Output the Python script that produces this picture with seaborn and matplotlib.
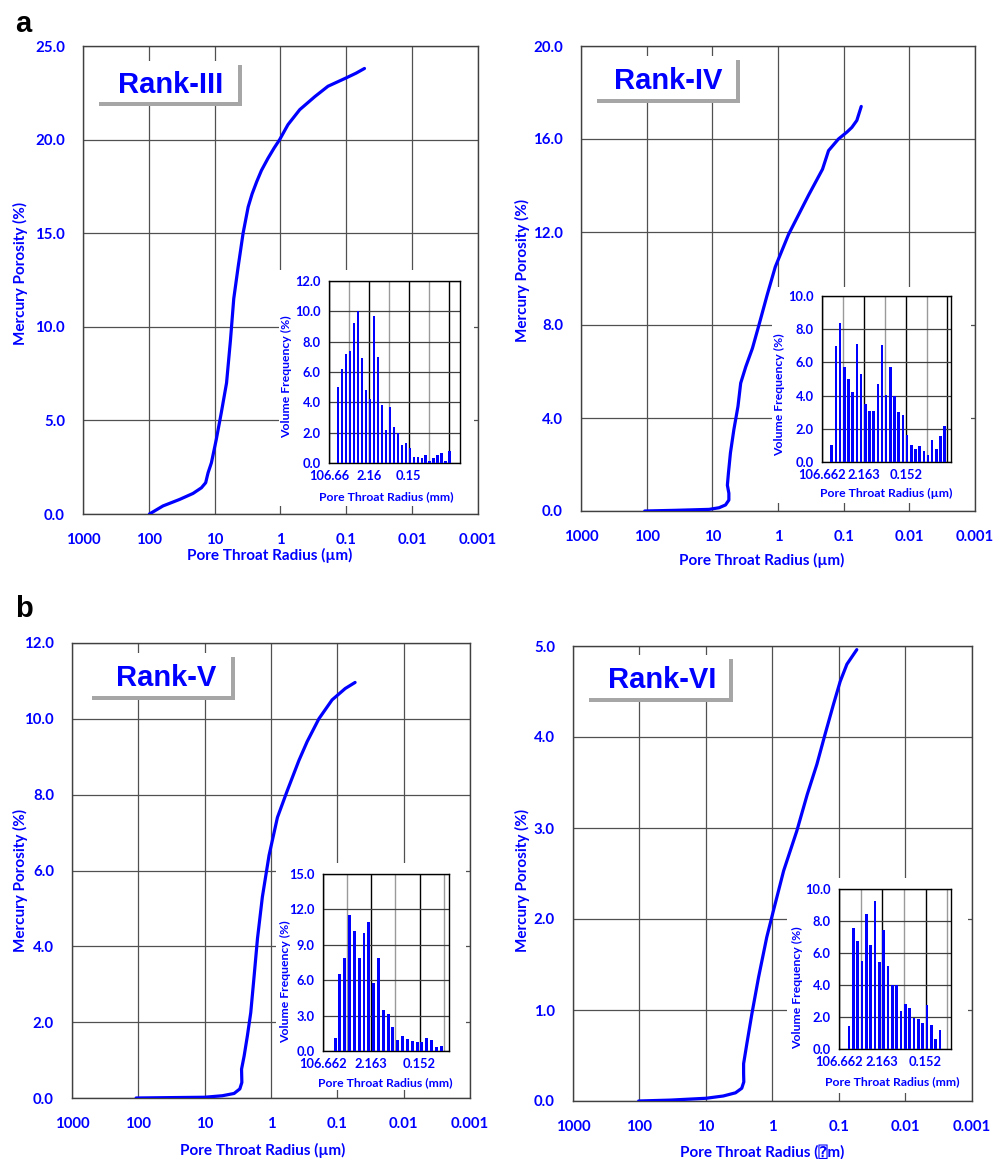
import numpy as np
import pandas as pd
import matplotlib
matplotlib.use("Agg")
import matplotlib.pyplot as plt
import seaborn as sns
from matplotlib.patches import Rectangle
from matplotlib.ticker import FixedLocator, NullFormatter, LogLocator, MultipleLocator, FormatStrFormatter, FixedFormatter

# ---------------- data ----------------
# Capillary curves: pore throat radius (um) vs cumulative mercury porosity (%)
rank3_radius = [98, 61, 34, 21.3, 15.9, 13.7, 12.6, 11.2, 9.44, 7.94, 6.6, 5.75, 5.13, 4.4, 3.7, 3.1,
                2.7, 2.3, 1.95, 1.55, 1.25, 1.03, 0.77, 0.51, 0.30, 0.19, 0.133, 0.10, 0.071, 0.053]
rank3_porosity = [0.0, 0.43, 0.78, 1.1, 1.4, 1.67, 2.2, 2.74, 3.99, 5.4, 7.0, 9.3, 11.5, 13.2, 15.0, 16.4,
                  17.1, 17.75, 18.35, 19.0, 19.55, 20.0, 20.8, 21.6, 22.3, 22.85, 23.1, 23.3, 23.55, 23.8]

rank4_radius = [107, 36, 11.2, 7.9, 6.3, 5.6, 5.6, 5.9, 5.7, 5.3, 4.7, 4.07, 3.7, 3.1, 2.45, 1.95, 1.46,
                1.1, 0.69, 0.34, 0.21, 0.17, 0.12, 0.089, 0.075, 0.063, 0.054]
rank4_porosity = [0.0, 0.03, 0.07, 0.14, 0.26, 0.47, 0.76, 1.11, 1.6, 2.5, 3.5, 4.5, 5.5, 6.2, 7.0, 8.0, 9.3,
                  10.5, 11.9, 13.6, 14.7, 15.5, 16.0, 16.3, 16.5, 16.8, 17.4]

rank5_radius = [108, 34, 10, 5.4, 3.6, 2.95, 2.75, 2.78, 2.54, 2.27, 2.02, 1.8, 1.6, 1.35, 1.07, 0.80,
                0.57, 0.38, 0.285, 0.19, 0.12, 0.076, 0.054]
rank5_porosity = [0.0, 0.01, 0.02, 0.06, 0.12, 0.24, 0.41, 0.76, 1.11, 1.64, 2.25, 3.2, 4.2, 5.3, 6.4, 7.4,
                  8.1, 8.9, 9.4, 10.0, 10.5, 10.8, 10.96]

rank6_radius = [103, 34, 10, 5.5, 3.6, 2.9, 2.7, 2.72, 2.72, 2.43, 2.04, 1.62, 1.22, 0.97, 0.68, 0.43,
                0.30, 0.215, 0.162, 0.121, 0.096, 0.076, 0.054]
rank6_porosity = [0.0, 0.01, 0.03, 0.055, 0.09, 0.14, 0.21, 0.30, 0.41, 0.63, 0.96, 1.36, 1.80, 2.09, 2.53,
                  2.97, 3.37, 3.70, 4.03, 4.36, 4.61, 4.80, 4.96]

# Pore-throat volume frequency histograms (%)
rank3_freq = [5.0, 6.2, 7.2, 7.4, 9.2, 10.0, 6.9, 4.8, 4.2, 9.7, 7.0, 3.8, 2.2, 3.7, 2.35, 2.0, 1.2, 1.35,
              1.0, 0.37, 0.4, 0.3, 0.55, 0.1, 0.3, 0.5, 0.65, 0.15, 0.8]
rank4_freq = [1.04, 7.0, 8.4, 5.7, 5.0, 4.2, 7.1, 5.3, 3.5, 3.05, 3.1, 4.7, 7.05, 4.05, 5.7, 4.0, 3.0, 2.85,
              1.63, 1.05, 0.8, 0.95, 0.66, 0.42, 1.35, 0.8, 1.58, 2.15]
rank5_freq = [1.08, 6.55, 7.9, 11.5, 10.2, 7.9, 10.0, 10.9, 5.75, 7.85, 3.5, 3.1, 2.0, 0.96, 1.27, 1.0, 0.85,
              0.74, 0.74, 1.1, 0.9, 0.35, 0.45]
rank6_freq = [1.41, 7.55, 6.78, 5.5, 8.46, 6.53, 9.27, 5.43, 7.42, 5.16, 4.01, 3.97, 2.35, 2.83, 2.58, 1.93,
              1.87, 1.6, 2.72, 1.48, 0.64, 1.2]

rank_titles = ["Rank-III", "Rank-IV", "Rank-V", "Rank-VI"]
main_xtick_labels = ["1000", "100", "10", "1", "0.1", "0.01", "0.001"]
main_xtick_values = [1000, 100, 10, 1, 0.1, 0.01, 0.001]
inset_xtick_labels3 = ["106.66", "2.16", "0.15"]
inset_xtick_labels = ["106.662", "2.163", "0.152"]
main_xlabels = ["Pore Throat Radius (\u00b5m)", "Pore Throat Radius (\u00b5m)",
                "Pore Throat Radius (\u00b5m)", "Pore Throat Radius (\u2370m)"]
inset_xlabels = ["Pore Throat Radius (mm)", "Pore Throat Radius (\u00b5m)",
                 "Pore Throat Radius (mm)", "Pore Throat Radius (mm)"]

# ---------------- style ----------------
sns.set_style("white")
plt.rcParams["font.family"] = ["Lato", "DejaVu Sans", "DejaVu Sans Mono"]
plt.rcParams["font.weight"] = "bold"
plt.rcParams["axes.labelweight"] = "bold"

BLUE = "#0000ff"
W, H = 1003, 1159
fig = plt.figure(figsize=(W / 100, H / 100), dpi=100)


def frect(l, t, r, b):
    return [l / W, 1 - b / H, (r - l) / W, (b - t) / H]


def fx(px):
    return px / W


def fy(py):
    return 1 - py / H


panels = [
    dict(rect=(83, 46, 478, 514), r=rank3_radius, p=rank3_porosity, ymax=25, ystep=5,
         box=(95, 61, 238, 102), txt=(118, 93), xl=(270, 555), yl=(20, 273),
         patch=(279, 270, 474, 506),
         inset=(329, 281, 460, 463), freq=rank3_freq, off=2.27, right=30.6, iy=12, istep=2,
         ixt=inset_xtick_labels3, ixl=(386, 497), iyl=(287, 377)),
    dict(rect=(581, 46, 975, 511), r=rank4_radius, p=rank4_porosity, ymax=20, ystep=4,
         box=(593, 56, 736, 99), txt=(614, 89), xl=(762, 560), yl=(522, 270),
         patch=(772, 287, 971, 503),
         inset=(822, 296, 951, 462), freq=rank4_freq, off=2.34, right=28.5, iy=10, istep=2,
         ixt=inset_xtick_labels, ixl=(886, 493), iyl=(780, 395)),
    dict(rect=(72, 643, 470, 1098), r=rank5_radius, p=rank5_porosity, ymax=12, ystep=2,
         box=(88, 653, 231, 696), txt=(116, 686), xl=(263, 1150), yl=(20, 880),
         patch=(276, 863, 466, 1090),
         inset=(323, 874, 449, 1051), freq=rank5_freq, off=2.49, right=23.6, iy=15, istep=3,
         ixt=inset_xtick_labels, ixl=(385, 1083), iyl=(286, 982)),
    dict(rect=(573, 646, 972, 1101), r=rank6_radius, p=rank6_porosity, ymax=5, ystep=1,
         box=(585, 655, 729, 698), txt=(608, 688), xl=(762, 1152), yl=(522, 880),
         patch=(787, 878, 968, 1093),
         inset=(839, 889, 951, 1049), freq=rank6_freq, off=2.32, right=23.55, iy=10, istep=2,
         ixt=inset_xtick_labels, ixl=(892, 1082), iyl=(798, 988)),
]

for i, P in enumerate(panels):
    ax = fig.add_axes(frect(*P["rect"]))
    ax.set_xscale("log")
    df = pd.DataFrame({"radius": P["r"], "porosity": P["p"]})
    sns.lineplot(data=df, x="radius", y="porosity", ax=ax, sort=False, estimator=None,
                 color=BLUE, lw=2.3, zorder=3)
    ax.set_xlim(1000, 0.001)
    ax.set_ylim(0, P["ymax"])
    ax.set_axisbelow(True)
    ax.set_facecolor("white")
    ax.xaxis.set_major_locator(FixedLocator(main_xtick_values))
    ax.xaxis.set_major_formatter(FixedFormatter(main_xtick_labels))
    ax.xaxis.set_minor_locator(LogLocator(base=10, subs=np.arange(2, 10), numticks=20))
    ax.xaxis.set_minor_formatter(NullFormatter())
    ax.yaxis.set_major_locator(MultipleLocator(P["ystep"]))
    ax.yaxis.set_minor_locator(MultipleLocator(P["ystep"] / 5))
    ax.yaxis.set_major_formatter(FormatStrFormatter("%.1f"))
    ax.grid(which="major", color="#505050", lw=0.9)
    ax.grid(which="minor", visible=False)
    ax.tick_params(which="major", direction="out", length=5, width=0.9, color="#404040",
                   labelsize=10.8, labelcolor=BLUE)
    ax.tick_params(axis="x", which="major", pad=9)
    ax.tick_params(axis="y", which="major", pad=8)
    ax.tick_params(which="minor", direction="in", length=4, width=0.8, color="#404040")
    ax.tick_params(top=False, right=False, which="both")
    for s in ax.spines.values():
        s.set_color("#404040")
        s.set_linewidth(1.0)
    ax.set_xlabel(main_xlabels[i], color=BLUE, fontsize=11, fontweight="bold")
    ax.set_ylabel("Mercury Porosity (%)", color=BLUE, fontsize=11, fontweight="bold")
    ax.xaxis.set_label_coords(fx(P["xl"][0]), fy(P["xl"][1]), transform=fig.transFigure)
    ax.xaxis.label.set_verticalalignment("center")
    ax.yaxis.set_label_coords(fx(P["yl"][0]), fy(P["yl"][1]), transform=fig.transFigure)
    ax.yaxis.label.set_verticalalignment("center")

    # white backing behind the inset
    pl, pt, pr, pb = P["patch"]
    ax.add_patch(Rectangle((fx(pl), fy(pb)), (pr - pl) / W, (pb - pt) / H,
                           transform=fig.transFigure, facecolor="white", edgecolor="none",
                           zorder=1.8, clip_on=False))

    # rank label box with drop shadow
    bl, bt, br, bb = P["box"]
    sh = 4
    fig.patches.append(Rectangle((fx(bl + sh), fy(bb + sh)), (br - bl) / W, (bb - bt) / H,
                                 transform=fig.transFigure, facecolor="#a6a6a6", edgecolor="none",
                                 zorder=5))
    fig.patches.append(Rectangle((fx(bl), fy(bb)), (br - bl) / W, (bb - bt) / H,
                                 transform=fig.transFigure, facecolor="white", edgecolor="none",
                                 zorder=6))
    fig.text(fx(P["txt"][0]), fy(P["txt"][1]), rank_titles[i], ha="left", va="baseline",
             fontsize=21, fontweight="bold", color=BLUE, family="Liberation Sans", zorder=7)

    # inset histogram
    ins = fig.add_axes(frect(*P["inset"]))
    ins.set_zorder(ax.get_zorder() + 1)
    n = len(P["freq"])
    hdf = pd.DataFrame({"bin": list(range(n)), "freq": P["freq"]})
    sns.barplot(data=hdf, x="bin", y="freq", ax=ins, color=BLUE, saturation=1, width=0.62,
                order=list(range(n)), zorder=3, linewidth=0, edgecolor="none")
    off = P["off"]
    ins.set_xlim(-off, P["right"])
    ins.set_ylim(0, P["iy"])
    majors = [-off + 10 * k for k in range(4) if -off + 10 * k <= P["right"]]
    minors = [-off + 5 + 10 * k for k in range(4) if -off + 5 + 10 * k <= P["right"]]
    ins.xaxis.set_major_locator(FixedLocator(majors))
    ins.xaxis.set_major_formatter(FixedFormatter(P["ixt"] + [""] * (len(majors) - 3)))
    ins.xaxis.set_minor_locator(FixedLocator(minors))
    ins.xaxis.set_minor_formatter(NullFormatter())
    ins.yaxis.set_major_locator(MultipleLocator(P["istep"]))
    ins.yaxis.set_minor_locator(MultipleLocator(P["istep"] / 2))
    ins.yaxis.set_major_formatter(FormatStrFormatter("%.1f"))
    ins.set_axisbelow(True)
    ins.grid(axis="x", which="major", color="black", lw=1.0)
    ins.grid(axis="x", which="minor", color="#9a9a9a", lw=1.0)
    ins.grid(axis="y", which="major", color="#404040", lw=0.9)
    ins.tick_params(axis="x", which="both", length=0, pad=5, labelsize=9.3, labelcolor=BLUE)
    ins.tick_params(axis="y", which="major", direction="out", length=3, color="#404040",
                    labelsize=9.3, labelcolor=BLUE, pad=3)
    ins.tick_params(axis="y", which="minor", direction="in", length=3, color="#404040")
    for s in ins.spines.values():
        s.set_color("black")
        s.set_linewidth(1.0)
        s.set_visible(True)
    ins.set_xlabel(inset_xlabels[i], color=BLUE, fontsize=8.8, fontweight="bold")
    ins.set_ylabel("Volume Frequency (%)", color=BLUE, fontsize=8.8, fontweight="bold")
    ins.xaxis.set_label_coords(fx(P["ixl"][0]), fy(P["ixl"][1]), transform=fig.transFigure)
    ins.xaxis.label.set_verticalalignment("center")
    ins.yaxis.set_label_coords(fx(P["iyl"][0]), fy(P["iyl"][1]), transform=fig.transFigure)
    ins.yaxis.label.set_verticalalignment("center")

fig.text(fx(15), fy(32), "a", fontsize=21, fontweight="bold", color="black",
         family="Liberation Sans", ha="left", va="baseline")
fig.text(fx(15), fy(617), "b", fontsize=21, fontweight="bold", color="black",
         family="Liberation Sans", ha="left", va="baseline")

fig.savefig("out.png", dpi=100)
